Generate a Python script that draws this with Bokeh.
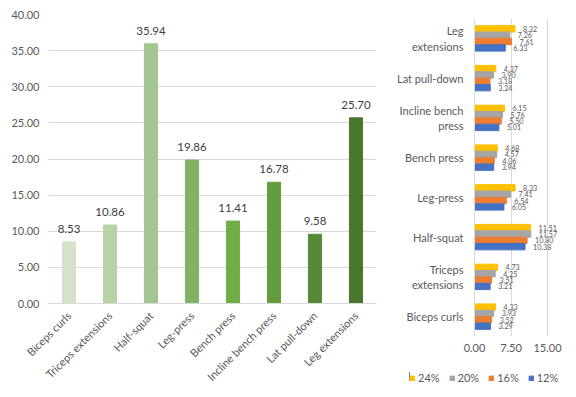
import math
from bokeh.plotting import figure
from bokeh.models import (ColumnDataSource, FactorRange, Range1d, FixedTicker, NumeralTickFormatter,
                          LabelSet, Legend, LegendItem, CustomJSTickFormatter)
from bokeh.core.properties import value
from bokeh.transform import dodge
from bokeh.embed import file_html
from bokeh.resources import INLINE

FONT = "Lato"

exercises = ["Biceps curls", "Triceps extensions", "Half-squat", "Leg-press",
             "Bench press", "Incline bench press", "Lat pull-down", "Leg extensions"]
totals = [8.53, 10.86, 35.94, 19.86, 11.41, 16.78, 9.58, 25.70]
bar_colors = ["#D3E2C9", "#B7D3A5", "#A3C590", "#80B464", "#70AD47", "#639C3D", "#578A36", "#4A772D"]

p24 = [4.33, 4.73, 11.51, 8.33, 4.68, 6.15, 4.37, 8.32]
p20 = [3.93, 4.25, 11.57, 7.41, 4.57, 5.76, 3.90, 7.26]
p16 = [3.52, 3.51, 10.80, 6.54, 4.06, 5.50, 3.18, 7.61]
p12 = [3.29, 3.21, 10.38, 6.05, 3.94, 5.01, 3.24, 6.33]
series_names = ["24%", "20%", "16%", "12%"]
series_colors = ["#FFC000", "#A5A5A5", "#ED7D31", "#4472C4"]
wrapped_labels = {"Leg extensions": "Leg\nextensions",
                  "Incline bench press": "Incline bench\npress",
                  "Triceps extensions": "Triceps\nextensions"}
left_ticks = [0, 5, 10, 15, 20, 25, 30, 35, 40]
right_ticks = [0, 7.5, 15]

TXT = "#595959"
GRID = "#D9D9D9"


def clean_axis(ax):
    ax.major_tick_line_color = None
    ax.minor_tick_line_color = None
    ax.major_tick_out = 0
    ax.major_tick_in = 0
    ax.minor_tick_out = 0
    ax.major_label_text_font = FONT
    ax.major_label_text_font_size = "11px"
    ax.major_label_text_color = TXT


# ---------------- left chart ----------------
src = ColumnDataSource(dict(x=exercises, y=totals, c=bar_colors,
                            lab=["%.2f" % v for v in totals]))
left = figure(x_range=FactorRange(*exercises, range_padding=0), y_range=Range1d(0, 40),
              frame_width=328, frame_height=289, min_border_left=39, min_border_right=1,
              min_border_top=6, min_border_bottom=80,
              output_backend="svg", toolbar_location=None,
              styles={"position": "absolute", "left": "8px", "top": "8px"})
left.vbar(x="x", top="y", width=0.32, color="c", source=src)
left.add_layout(LabelSet(x="x", y="y", text="lab", source=src, y_offset=13,
                         text_align="center", text_baseline="middle",
                         text_font=value(FONT), text_font_size="11.5px", text_color="#404040"))
left.outline_line_color = None
left.xgrid.grid_line_color = None
left.ygrid.grid_line_color = GRID
left.yaxis.ticker = FixedTicker(ticks=left_ticks)
left.yaxis.formatter = NumeralTickFormatter(format="0.00")
left.yaxis.axis_line_color = None
left.yaxis.major_label_standoff = 9
left.xaxis.axis_line_color = GRID
left.xaxis.major_label_orientation = math.pi / 4
left.xaxis.major_label_standoff = 10
clean_axis(left.xaxis)
clean_axis(left.yaxis)

# ---------------- right chart ----------------
rsrc = ColumnDataSource(dict(cat=exercises, p24=p24, p20=p20, p16=p16, p12=p12,
                             l24=["%.2f" % v for v in p24], l20=["%.2f" % v for v in p20],
                             l16=["%.2f" % v for v in p16], l12=["%.2f" % v for v in p12]))
right = figure(y_range=FactorRange(*exercises, range_padding=0), x_range=Range1d(0, 18.9),
               frame_width=92, frame_height=318, min_border_left=98, min_border_right=2,
               min_border_top=10, min_border_bottom=10,
               output_backend="svg", toolbar_location=None,
               styles={"position": "absolute", "left": "376px", "top": "8px"})
offsets = [0.24, 0.08, -0.08, -0.24]
keys = ["24", "20", "16", "12"]
for k, off, col in zip(keys, offsets, series_colors):
    right.hbar(y=dodge("cat", off, range=right.y_range), right="p" + k, left=0,
               height=0.16, color=col, source=rsrc)
    right.text(x="p" + k, y=dodge("cat", off, range=right.y_range), text="l" + k, source=rsrc,
               x_offset=8, text_align="left", text_baseline="middle",
               text_font=value(FONT), text_font_size="7.2px", text_color=TXT)
right.outline_line_color = None
right.ygrid.grid_line_color = None
right.xgrid.grid_line_color = GRID
right.xaxis.ticker = FixedTicker(ticks=right_ticks)
right.xaxis.formatter = NumeralTickFormatter(format="0.00")
right.xaxis.axis_line_color = None
right.xaxis.major_label_standoff = 7
right.yaxis.axis_line_color = GRID
right.yaxis.major_label_standoff = 11
right.yaxis.formatter = CustomJSTickFormatter(args=dict(m=wrapped_labels),
                                              code="return (tick in m) ? m[tick] : tick;")
clean_axis(right.xaxis)
clean_axis(right.yaxis)

# ---------------- legend (its own small canvas below the right chart) ----------------
leg = figure(width=160, height=16, min_border=0, x_axis_type=None, y_axis_type=None,
             x_range=Range1d(0, 1), y_range=Range1d(0, 1),
             output_backend="svg", toolbar_location=None,
             styles={"position": "absolute", "left": "409px", "top": "368px"})
leg.outline_line_color = None
leg.background_fill_alpha = 0
leg.border_fill_alpha = 0
leg.xgrid.grid_line_color = None
leg.ygrid.grid_line_color = None
items = []
for n, col in zip(series_names, series_colors):
    # zero-width bar: only supplies the legend swatch style
    r = leg.hbar(y=[0.5], right=[0], left=[0], height=0.5, color=col)
    items.append(LegendItem(label=n, renderers=[r]))
legend = Legend(items=items, orientation="horizontal", location=(0, 0),
                glyph_width=6, glyph_height=6, label_standoff=3, spacing=9,
                padding=0, margin=0, border_line_color=None, background_fill_alpha=0,
                label_text_font=FONT, label_text_font_size="11px", label_text_color=TXT,
                label_height=12)
leg.add_layout(legend, "center")

open("out.html", "w").write(file_html([left, right, leg], INLINE))
